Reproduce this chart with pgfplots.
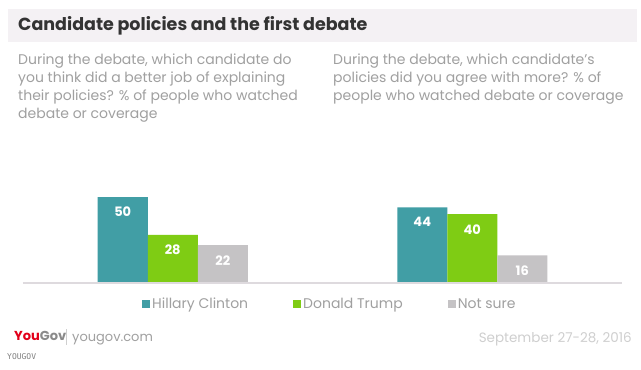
\documentclass[border=0pt]{standalone}
\usepackage{pgfplots}
\pgfplotsset{compat=1.18}
\usepackage{fontspec}
\setmainfont{Poppins}
\newfontfamily\monofont{DejaVu Sans Mono}
\definecolor{clinton}{HTML}{419EA5}
\definecolor{trump}{HTML}{7FCC14}
\definecolor{notsure}{HTML}{C5C3C5}
\definecolor{band}{HTML}{F4F1F4}
\definecolor{titlec}{HTML}{333333}
\definecolor{subc}{HTML}{A0A0A0}
\definecolor{basec}{HTML}{DEDADE}
\definecolor{ygred}{HTML}{E2001A}
\definecolor{yggray}{HTML}{8A8A8A}
\definecolor{datec}{HTML}{CFCFCF}
\begin{document}
\begin{tikzpicture}[x=1pt,y=1pt]
\useasboundingbox (0,0) rectangle (641,370);
\fill[white] (0,0) rectangle (641,370);
\fill[band] (8,328) rectangle (637,361);
\node[anchor=base west, inner sep=0, text=titlec, font=\fontsize{17.5}{19}\selectfont\bfseries] at (18,339) {Candidate policies and the first debate};
\node[anchor=north west, inner sep=0, text=subc, align=left, font=\fontsize{14}{18}\selectfont] at (18,316) {During the debate, which candidate do\\you think did a better job of explaining\\their policies? \% of people who watched\\debate or coverage};
\node[anchor=north west, inner sep=0, text=subc, align=left, font=\fontsize{14}{18}\selectfont] at (333,316) {During the debate, which candidate's\\policies did you agree with more? \% of\\people who watched debate or coverage};
\begin{axis}[
  at={(23pt,87pt)}, anchor=south west,
  scale only axis, width=599pt, height=86pt,
  xmin=-0.5, xmax=1.5, ymin=0, ymax=50,
  hide axis, clip=false,
  ybar=0pt, bar width=50pt,
  /pgf/number format/assume math mode=true,
  nodes near coords,
  every node near coord/.append style={anchor=north, yshift=-10pt, text=white, font=\fontsize{13}{13}\selectfont\bfseries, inner sep=0pt},
  legend columns=3,
  legend style={at={(axis description cs:0.1987,-0.245)}, anchor=west, draw=none, fill=none, inner sep=0pt,
    font=\fontsize{14}{14}\selectfont, text=subc,
    /tikz/every even column/.append style={column sep=43pt}},
  legend image code/.code={\fill[#1] (0pt,-4pt) rectangle (8pt,4pt);},
]
\addplot[fill=clinton, draw=none] coordinates {(0,50) (1,44)};
\addplot[fill=trump, draw=none] coordinates {(0,28) (1,40)};
\addplot[fill=notsure, draw=none] coordinates {(0,22) (1,16)};
\legend{Hillary Clinton, Donald Trump, Not sure}
\draw[basec, line width=2pt] (axis cs:-0.5,0) -- (axis cs:1.5,0);
\end{axis}
\node[anchor=base west, inner sep=0, font=\fontsize{13}{13}\selectfont\bfseries] at (14,29) {\textcolor{ygred}{You}\textcolor{yggray}{Gov}};
\draw[datec, line width=0.8pt] (66,25) -- (66,41);
\node[anchor=base west, inner sep=0, text=subc, font=\fontsize{13}{13}\selectfont] at (72,28) {yougov.com};
\node[anchor=base east, inner sep=0, text=datec, font=\fontsize{13.5}{13.5}\selectfont] at (632,27) {September 27-28, 2016};
\node[anchor=base west, inner sep=0, text=gray, font=\monofont\fontsize{8}{8}\selectfont] at (7,10) {YOUGOV};
\end{tikzpicture}
\end{document}
